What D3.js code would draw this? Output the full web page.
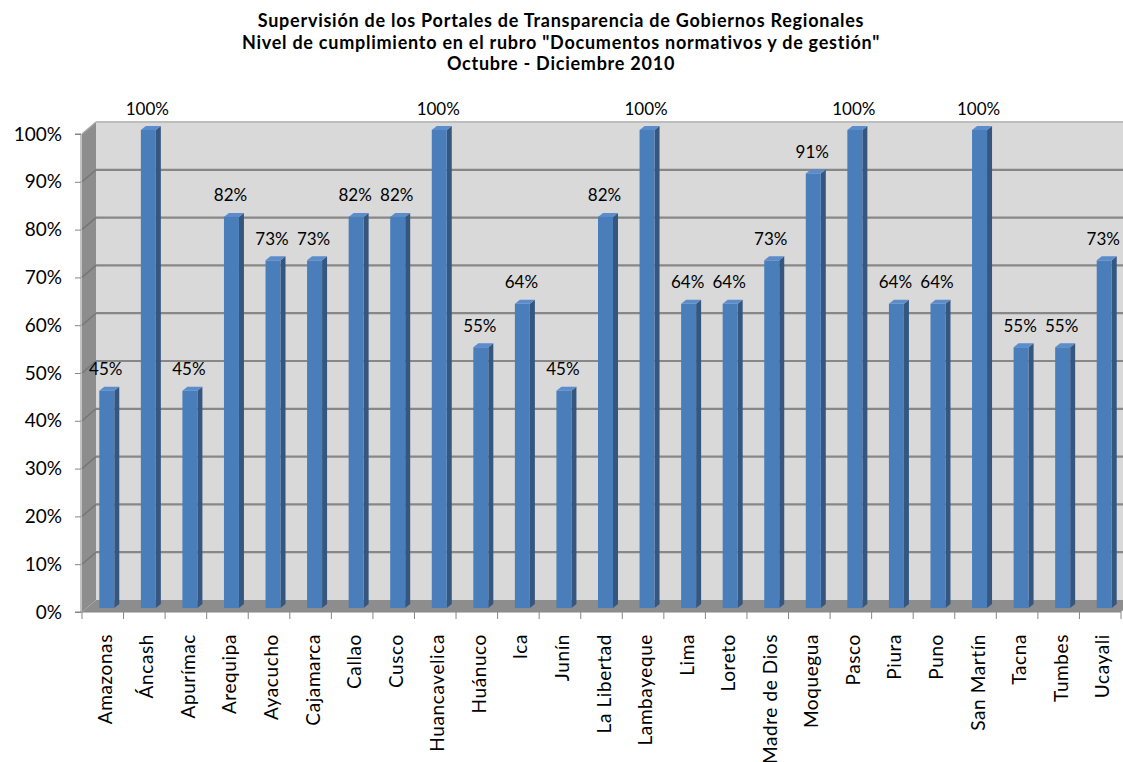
<!DOCTYPE html>
<html>
<head>
<meta charset="utf-8">
<script src="https://cdn.jsdelivr.net/npm/d3@7.9.0/dist/d3.min.js"></script>
<style>
  body { margin: 0; background: #fff; }
  svg { display: block; font-family: Lato, "Open Sans", sans-serif; }
</style>
</head>
<body>
<div id="chart"></div>
<script>
// Data
const regions = ["Amazonas", "Áncash", "Apurímac", "Arequipa", "Ayacucho", "Cajamarca", "Callao",
  "Cusco", "Huancavelica", "Huánuco", "Ica", "Junín", "La Libertad", "Lambayeque", "Lima",
  "Loreto", "Madre de Dios", "Moquegua", "Pasco", "Piura", "Puno", "San Martín", "Tacna",
  "Tumbes", "Ucayali"];
const compliance = [45.45, 100, 45.45, 81.82, 72.73, 72.73, 81.82, 81.82, 100, 54.55, 63.64, 45.45,
  81.82, 100, 63.64, 63.64, 72.73, 90.91, 100, 63.64, 63.64, 100, 54.55, 54.55, 72.73];
const yTicks = [0, 10, 20, 30, 40, 50, 60, 70, 80, 90, 100];
const titleLines = [
  "Supervisión de los Portales de Transparencia  de Gobiernos Regionales",
  "Nivel de cumplimiento en el rubro \"Documentos normativos y de gestión\"",
  "Octubre - Diciembre 2010"
];

const data = regions.map((name, i) => ({ name, value: compliance[i] }));

const W = 1123, H = 762;
const depth = { dx: 14, dy: -12 };   // 3D offset of the back wall
const barDepth = { dx: 5, dy: -4 };  // thickness of each bar's side / top

const svg = d3.select("#chart").append("svg")
  .attr("width", W)
  .attr("height", H);

const x = d3.scaleBand().domain(regions).range([82, 1121]).padding(0);
const y = d3.scaleLinear().domain([0, 100]).range([612, 134]);

const [x0, x1] = x.range();
const yb = y(0), yt = y(100);

// Back wall
svg.append("rect")
  .attr("x", x0 + depth.dx)
  .attr("y", yt + depth.dy)
  .attr("width", x1 - x0)
  .attr("height", yb - yt)
  .attr("fill", "#d9d9d9");

// Left wall
svg.append("polygon")
  .attr("points", [[x0, yt], [x0 + depth.dx, yt + depth.dy], [x0 + depth.dx, yb + depth.dy], [x0, yb]].join(" "))
  .attr("fill", "#8d8d8d");

// Floor
svg.append("polygon")
  .attr("points", [[x0, yb], [x0 + depth.dx, yb + depth.dy], [x1 + depth.dx, yb + depth.dy], [x1, yb]].join(" "))
  .attr("fill", "#8d8d8d");

// Gridlines on back wall and left wall
const grid = svg.append("g");
grid.selectAll("line.back")
  .data(yTicks.filter(d => d > 0))
  .join("line")
  .attr("class", "back")
  .attr("x1", x0 + depth.dx)
  .attr("x2", x1 + depth.dx)
  .attr("y1", d => y(d) + depth.dy)
  .attr("y2", d => y(d) + depth.dy)
  .attr("stroke", d => d === 100 ? "#bdbdbd" : "#878787")
  .attr("stroke-width", 2.2);
grid.selectAll("line.side")
  .data(yTicks.filter(d => d > 0))
  .join("line")
  .attr("class", "side")
  .attr("x1", x0)
  .attr("x2", x0 + depth.dx)
  .attr("y1", d => y(d))
  .attr("y2", d => y(d) + depth.dy)
  .attr("stroke", d => d === 100 ? "#a8a8a8" : "#767676")
  .attr("stroke-width", 1.5);

// Bars (front, side, top)
const barW = 15;
const bars = svg.append("g").selectAll("g")
  .data(data)
  .join("g");

const bx = d => x(d.name) + x.bandwidth() / 2 - 3.5;
const barTop = d => y(d.value) - 4;
const barBottom = yb - 4;

bars.append("polygon")
  .attr("points", d => [
    [bx(d) + barW, barTop(d)], [bx(d) + barW + barDepth.dx, barTop(d) + barDepth.dy],
    [bx(d) + barW + barDepth.dx, barBottom + barDepth.dy], [bx(d) + barW, barBottom]
  ].join(" "))
  .attr("fill", "#34567f");

bars.append("polygon")
  .attr("points", d => [
    [bx(d), barTop(d)], [bx(d) + barDepth.dx, barTop(d) + barDepth.dy],
    [bx(d) + barW + barDepth.dx, barTop(d) + barDepth.dy], [bx(d) + barW, barTop(d)]
  ].join(" "))
  .attr("fill", "#5b8ccb");

bars.append("rect")
  .attr("x", bx)
  .attr("y", barTop)
  .attr("width", barW)
  .attr("height", d => barBottom - barTop(d))
  .attr("fill", "#4a7ebb");

// Data labels
svg.append("g").selectAll("text")
  .data(data)
  .join("text")
  .attr("x", d => x(d.name) + x.bandwidth() / 2 + 3)
  .attr("y", d => y(d.value) - 19.5)
  .attr("text-anchor", "middle")
  .attr("font-size", 17)
  .attr("fill", "#000")
  .text(d => `${Math.round(d.value)}%`);

// Y axis
const yAxis = svg.append("g")
  .attr("transform", `translate(${x0 - 1},0)`)
  .call(d3.axisLeft(y).tickValues(yTicks).tickSize(6).tickPadding(13).tickFormat(d => `${d}%`));
yAxis.selectAll("text").attr("font-size", 19).attr("font-family", "Lato, sans-serif").attr("fill", "#000");
yAxis.selectAll("line").attr("stroke", "#868686");
yAxis.select(".domain").attr("stroke", "#868686").attr("d", `M-6,${yt}H0V${yb}H-6`);

// X axis
const xAxis = svg.append("g")
  .attr("transform", `translate(0,${yb})`);
xAxis.append("line")
  .attr("x1", x0 - 1).attr("x2", x1)
  .attr("stroke", "#868686");
xAxis.selectAll("line.tick")
  .data(regions.map(r => x(r)).concat([x1]))
  .join("line")
  .attr("class", "tick")
  .attr("x1", d => d).attr("x2", d => d)
  .attr("y1", 0).attr("y2", 7)
  .attr("stroke", "#868686");
xAxis.selectAll("text")
  .data(regions)
  .join("text")
  .attr("transform", d => `translate(${x(d) + x.bandwidth() / 2 + 9},22) rotate(-90)`)
  .attr("text-anchor", "end")
  .attr("font-size", 19)
  .attr("letter-spacing", 0.6)
  .attr("fill", "#000")
  .text(d => d);

// Title
svg.append("g").selectAll("text")
  .data(titleLines)
  .join("text")
  .attr("x", 561)
  .attr("y", (d, i) => 27 + i * 21.5)
  .attr("text-anchor", "middle")
  .attr("font-size", 18)
  .attr("letter-spacing", 0.75)
  .attr("font-weight", "bold")
  .attr("fill", "#000")
  .text(d => d);
</script>
</body>
</html>
